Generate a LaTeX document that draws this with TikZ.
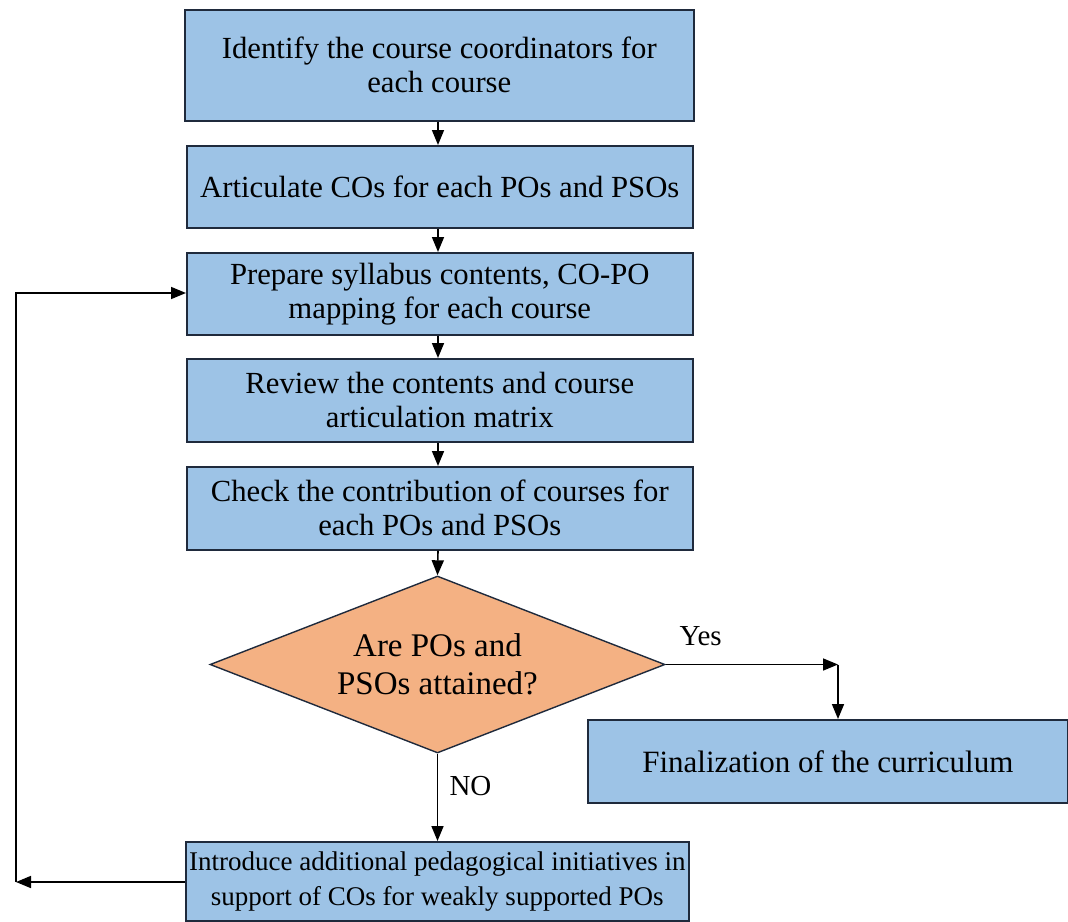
\documentclass[tikz,border=0pt]{standalone}
\usepackage{fontspec}
\setmainfont{Liberation Serif}
\usetikzlibrary{arrows.meta,shapes.geometric}
\definecolor{boxblue}{HTML}{9DC3E6}
\definecolor{boxedge}{HTML}{1F2A3C}
\definecolor{decorange}{HTML}{F4B183}
\begin{document}
\begin{tikzpicture}[x=1pt,y=-1pt,
  stepbox/.style={draw=boxedge,fill=boxblue,line width=1.6pt,anchor=north west,
    align=center,inner sep=0pt,font=\fontsize{30.7}{34}\selectfont},
  decision/.style={diamond,draw=boxedge,fill=decorange,line width=1.4pt,
    shape aspect=2.57,inner sep=0pt,align=center,font=\fontsize{33}{38}\selectfont},
  flow/.style={line width=1.6pt,-{Triangle[length=15pt,width=12pt]}},
  lbl/.style={font=\fontsize{29}{34}\selectfont}]
\useasboundingbox (0,0) rectangle (1068,921);
\node[stepbox,minimum width=509pt,minimum height=111pt] (b1) at (184,9)
  {Identify the course coordinators for\\each course};
\node[stepbox,minimum width=506pt,minimum height=82pt] (b2) at (186,145)
  {Articulate COs for each POs and PSOs};
\node[stepbox,minimum width=506pt,minimum height=82pt] (b3) at (186,252)
  {Prepare syllabus contents, CO-PO\\mapping for each course};
\node[stepbox,minimum width=506pt,minimum height=83pt] (b4) at (186,358)
  {Review the contents and course\\articulation matrix};
\node[stepbox,minimum width=506pt,minimum height=83pt] (b5) at (186,466)
  {Check the contribution of courses for\\each POs and PSOs};
\node[decision,minimum width=455pt,minimum height=177pt] (d) at (437.5,664.5)
  {Are POs and\\PSOs attained?};
\node[stepbox,minimum width=480pt,minimum height=83pt,font=\fontsize{31}{36}\selectfont] (fin) at (587,719)
  {Finalization of the curriculum};
\node[stepbox,minimum width=503pt,minimum height=79pt,font=\fontsize{27}{35}\selectfont] (intro) at (185,841)
  {Introduce additional pedagogical initiatives in\\support of COs for weakly supported POs};
% corner points of the connectors
\coordinate (yc) at (838,664.5);
\coordinate (lc) at (16,882);
% main sequence
\draw[flow] (b1.south -| 438,0) -- (b2.north -| 438,0);
\draw[flow] (b2.south -| 438,0) -- (b3.north -| 438,0);
\draw[flow] (b3.south -| 438,0) -- (b4.north -| 438,0);
\draw[flow] (b4.south -| 438,0) -- (b5.north -| 438,0);
\draw[flow] (b5.south -| 438,0) -- (d.north);
% yes branch
\draw[flow] (d.east) -- (d.east -| yc);
\draw[flow] (yc) -- (fin.north -| yc);
\node[lbl,anchor=west] (yes) at (676,636) {Yes};
% no branch
\draw[flow] (d.south) -- (intro.north -| d.south);
\node[lbl,anchor=west] (no) at (446,786) {NO};
% feedback loop
\draw[flow] (intro.west |- lc) -- (lc);
\draw[flow] (lc) -- (16,293) -- (b3.west |- 0,293);
\end{tikzpicture}
\end{document}
